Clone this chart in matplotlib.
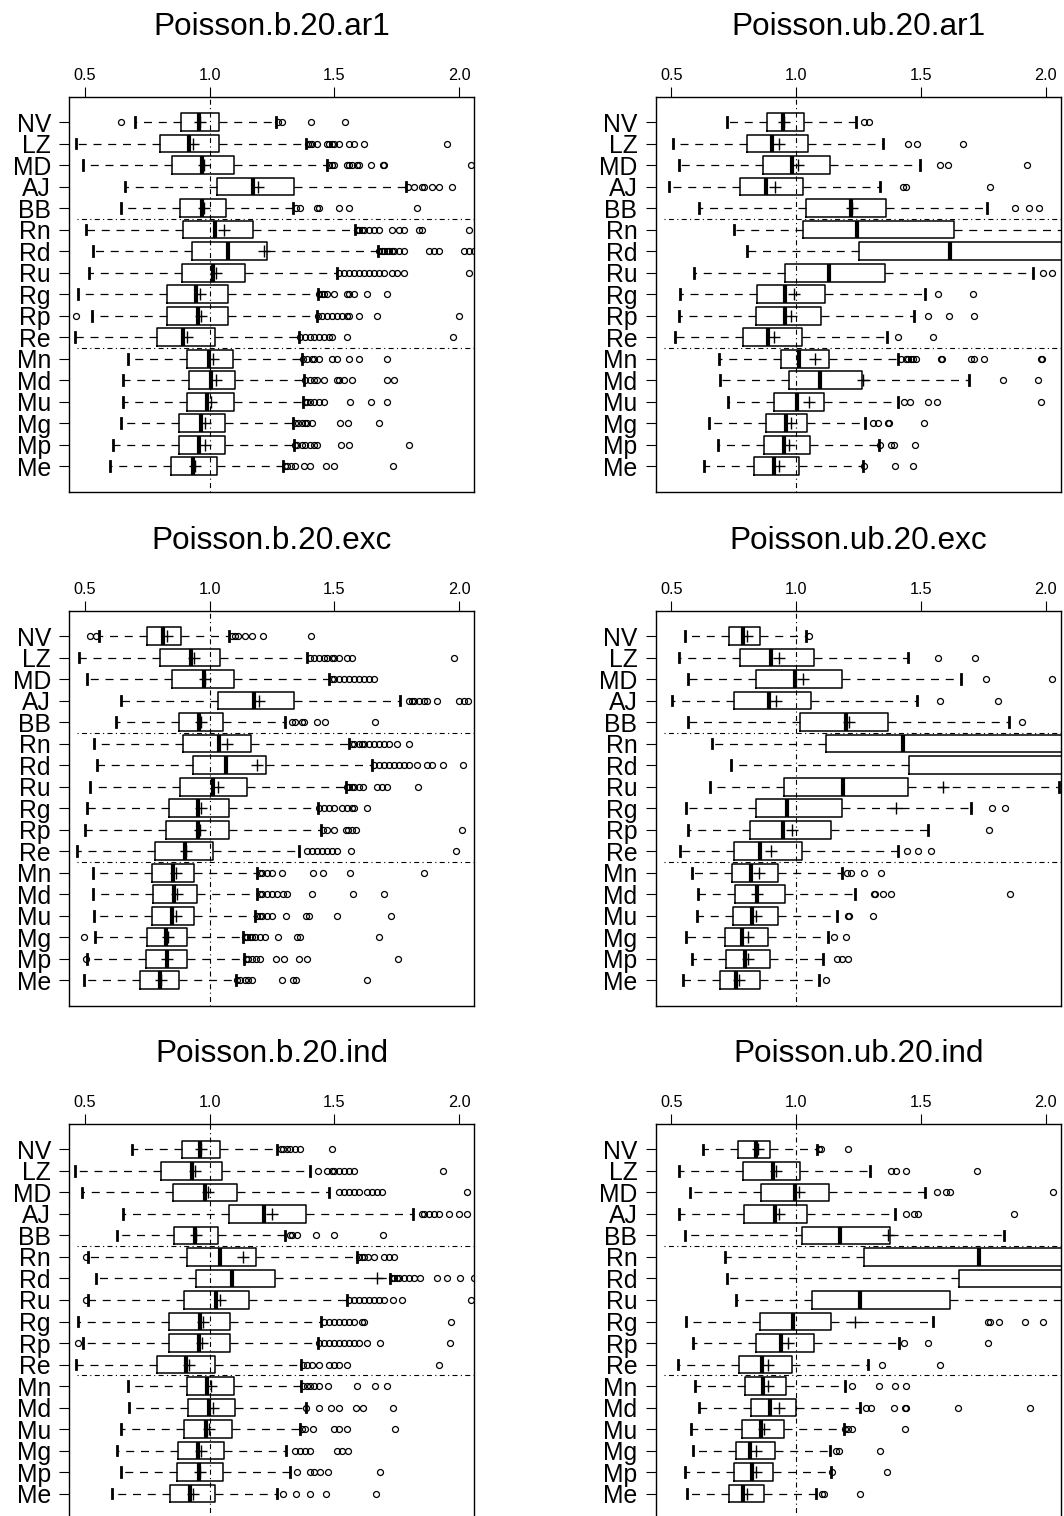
import matplotlib
matplotlib.use("Agg")
import matplotlib.pyplot as plt

plt.rcParams['font.family'] = ['Liberation Sans', 'DejaVu Sans']

# ---------------- data ----------------
CATEGORIES = ['NV', 'LZ', 'MD', 'AJ', 'BB', 'Rn', 'Rd', 'Ru', 'Rg', 'Rp', 'Re',
              'Mn', 'Md', 'Mu', 'Mg', 'Mp', 'Me']
TITLES = ['Poisson.b.20.ar1', 'Poisson.ub.20.ar1',
          'Poisson.b.20.exc', 'Poisson.ub.20.exc',
          'Poisson.b.20.ind', 'Poisson.ub.20.ind']
XTICKS = [0.5, 1.0, 1.5, 2.0]
XTICK_LABELS = ['0.5', '1.0', '1.5', '2.0']
REF_X = 1.0
GROUP_BREAKS = ['BB', 'Re']   # dash-dot separator drawn below these categories

# --- Poisson.b.20.ar1 ---
b_ar1_whislo = [0.701, 0.464, 0.491, 0.660, 0.647, 0.504, 0.533, 0.517, 0.473, 0.527, 0.460, 0.674, 0.654, 0.654, 0.647, 0.614, 0.603]
b_ar1_q1 = [0.885, 0.803, 0.848, 1.031, 0.881, 0.894, 0.928, 0.888, 0.830, 0.830, 0.790, 0.910, 0.916, 0.910, 0.878, 0.876, 0.846]
b_ar1_med = [0.959, 0.918, 0.968, 1.172, 0.969, 1.020, 1.072, 1.012, 0.945, 0.953, 0.893, 0.997, 1.005, 0.989, 0.964, 0.959, 0.932]
b_ar1_q3 = [1.039, 1.039, 1.099, 1.336, 1.064, 1.172, 1.229, 1.142, 1.074, 1.074, 1.020, 1.095, 1.103, 1.098, 1.063, 1.063, 1.028]
b_ar1_whishi = [1.266, 1.386, 1.469, 1.787, 1.332, 1.583, 1.676, 1.512, 1.433, 1.429, 1.356, 1.369, 1.376, 1.373, 1.333, 1.336, 1.293]
b_ar1_mean = [0.962, 0.932, 0.977, 1.195, 0.977, 1.058, 1.219, 1.025, 0.961, 0.967, 0.908, 1.015, 1.025, 1.004, 0.980, 0.980, 0.941]
b_ar1_fliers = [
    [0.647, 1.275, 1.29, 1.405, 1.544],
    [1.395, 1.40, 1.41, 1.43, 1.47, 1.48, 1.49, 1.50, 1.52, 1.56, 1.58, 1.62, 1.95],
    [1.48, 1.49, 1.50, 1.55, 1.56, 1.57, 1.59, 1.60, 1.645, 1.695, 1.70, 2.045],
    [1.795, 1.82, 1.85, 1.86, 1.89, 1.92, 1.97],
    [1.345, 1.36, 1.43, 1.44, 1.52, 1.56, 1.83],
    [1.59, 1.60, 1.61, 1.62, 1.64, 1.66, 1.68, 1.73, 1.76, 1.78, 1.84, 1.85, 2.04],
    [1.68, 1.69, 1.70, 1.71, 1.72, 1.73, 1.74, 1.76, 1.78, 1.88, 1.90, 1.92, 2.02, 2.04, 2.06],
    [1.52, 1.54, 1.56, 1.58, 1.60, 1.62, 1.64, 1.66, 1.68, 1.70, 1.73, 1.75, 1.78, 2.04],
    [1.44, 1.45, 1.46, 1.47, 1.50, 1.55, 1.56, 1.58, 1.63, 1.71],
    [0.464, 1.435, 1.45, 1.47, 1.49, 1.51, 1.53, 1.55, 1.56, 1.60, 1.67, 2.00],
    [1.36, 1.38, 1.40, 1.42, 1.44, 1.46, 1.48, 1.49, 1.55, 1.975],
    [1.375, 1.39, 1.41, 1.42, 1.44, 1.49, 1.51, 1.56, 1.60, 1.71],
    [1.38, 1.40, 1.42, 1.43, 1.46, 1.51, 1.52, 1.54, 1.57, 1.71, 1.74],
    [1.38, 1.39, 1.40, 1.42, 1.44, 1.46, 1.563, 1.645, 1.71],
    [1.34, 1.355, 1.37, 1.38, 1.39, 1.41, 1.523, 1.553, 1.68],
    [1.34, 1.35, 1.37, 1.38, 1.40, 1.42, 1.43, 1.527, 1.56, 1.797],
    [1.30, 1.31, 1.325, 1.34, 1.376, 1.402, 1.466, 1.50, 1.734],
]

# --- Poisson.ub.20.ar1 ---
ub_ar1_whislo = [0.724, 0.507, 0.533, 0.493, 0.613, 0.753, 0.804, 0.593, 0.536, 0.531, 0.517, 0.693, 0.696, 0.727, 0.653, 0.687, 0.631]
ub_ar1_q1 = [0.884, 0.803, 0.868, 0.776, 1.040, 1.029, 1.253, 0.957, 0.845, 0.841, 0.788, 0.939, 0.971, 0.913, 0.880, 0.871, 0.833]
ub_ar1_med = [0.949, 0.903, 0.984, 0.881, 1.220, 1.244, 1.616, 1.133, 0.957, 0.957, 0.888, 1.013, 1.095, 1.004, 0.961, 0.953, 0.911]
ub_ar1_q3 = [1.031, 1.049, 1.137, 1.029, 1.360, 1.633, 2.450, 1.357, 1.116, 1.100, 1.025, 1.132, 1.263, 1.113, 1.044, 1.056, 1.011]
ub_ar1_whishi = [1.241, 1.347, 1.497, 1.337, 1.764, 2.600, 3.400, 1.951, 1.516, 1.471, 1.364, 1.409, 1.693, 1.409, 1.276, 1.331, 1.267]
ub_ar1_mean = [0.951, 0.933, 1.007, 0.916, 1.223, 2.200, 2.300, 2.150, 0.991, 0.980, 0.913, 1.076, 1.267, 1.051, 0.980, 0.973, 0.933]
ub_ar1_fliers = [
    [1.273, 1.293],
    [1.449, 1.483, 1.669],
    [1.577, 1.607, 1.924],
    [1.427, 1.440, 1.776],
    [1.876, 1.933, 1.973],
    [],
    [],
    [1.991, 2.027],
    [1.569, 1.709],
    [1.527, 1.612, 1.711],
    [1.408, 1.547],
    [1.42, 1.44, 1.45, 1.46, 1.47, 1.48, 1.58, 1.585, 1.70, 1.713, 1.753, 1.98, 1.985],
    [1.827, 1.969],
    [1.431, 1.457, 1.527, 1.563, 1.98],
    [1.307, 1.327, 1.369, 1.373, 1.513],
    [1.337, 1.380, 1.393, 1.476],
    [1.273, 1.397, 1.468],
]

# --- Poisson.b.20.exc ---
b_exc_whislo = [0.557, 0.476, 0.507, 0.647, 0.627, 0.536, 0.547, 0.520, 0.507, 0.500, 0.467, 0.533, 0.533, 0.536, 0.540, 0.509, 0.497]
b_exc_q1 = [0.751, 0.803, 0.848, 1.032, 0.876, 0.894, 0.932, 0.881, 0.836, 0.824, 0.782, 0.771, 0.775, 0.771, 0.751, 0.745, 0.723]
b_exc_med = [0.814, 0.924, 0.976, 1.179, 0.959, 1.036, 1.066, 1.012, 0.955, 0.952, 0.901, 0.854, 0.857, 0.849, 0.825, 0.828, 0.801]
b_exc_q3 = [0.885, 1.041, 1.099, 1.336, 1.055, 1.166, 1.225, 1.150, 1.078, 1.076, 1.015, 0.939, 0.948, 0.936, 0.908, 0.908, 0.878]
b_exc_whishi = [1.079, 1.389, 1.479, 1.761, 1.302, 1.559, 1.652, 1.545, 1.433, 1.445, 1.356, 1.189, 1.191, 1.182, 1.135, 1.139, 1.106]
b_exc_mean = [0.828, 0.937, 0.981, 1.197, 0.965, 1.071, 1.191, 1.032, 0.965, 0.961, 0.905, 0.865, 0.868, 0.865, 0.832, 0.831, 0.805]
b_exc_fliers = [
    [0.520, 0.544, 1.09, 1.10, 1.115, 1.14, 1.168, 1.213, 1.405],
    [1.40, 1.42, 1.44, 1.46, 1.47, 1.49, 1.50, 1.52, 1.55, 1.57, 1.98],
    [1.49, 1.50, 1.52, 1.54, 1.56, 1.58, 1.60, 1.62, 1.64, 1.66],
    [1.80, 1.81, 1.82, 1.84, 1.86, 1.87, 1.91, 2.00, 2.02, 2.035],
    [1.329, 1.342, 1.369, 1.378, 1.429, 1.463, 1.663],
    [1.57, 1.58, 1.60, 1.61, 1.62, 1.64, 1.66, 1.68, 1.70, 1.72, 1.75, 1.80],
    [1.66, 1.68, 1.70, 1.72, 1.74, 1.76, 1.78, 1.80, 1.83, 1.87, 1.89, 1.935, 2.015],
    [1.55, 1.56, 1.57, 1.58, 1.60, 1.615, 1.67, 1.69, 1.71, 1.836],
    [1.44, 1.46, 1.48, 1.50, 1.53, 1.55, 1.57, 1.58, 1.63],
    [1.455, 1.47, 1.50, 1.545, 1.555, 1.57, 1.585, 2.01],
    [1.39, 1.41, 1.43, 1.45, 1.47, 1.49, 1.51, 1.566, 1.988],
    [1.20, 1.21, 1.23, 1.25, 1.29, 1.416, 1.453, 1.563, 1.857],
    [1.20, 1.21, 1.23, 1.25, 1.27, 1.295, 1.31, 1.409, 1.576, 1.70],
    [1.19, 1.20, 1.21, 1.23, 1.25, 1.306, 1.386, 1.396, 1.512, 1.726],
    [0.497, 1.14, 1.15, 1.16, 1.17, 1.18, 1.20, 1.22, 1.272, 1.35, 1.36, 1.68],
    [0.505, 1.145, 1.155, 1.17, 1.185, 1.20, 1.267, 1.296, 1.357, 1.388, 1.754],
    [1.11, 1.12, 1.14, 1.155, 1.17, 1.29, 1.332, 1.346, 1.63],
]

# --- Poisson.ub.20.exc ---
ub_exc_whislo = [0.557, 0.531, 0.567, 0.503, 0.569, 0.664, 0.740, 0.657, 0.559, 0.569, 0.536, 0.585, 0.609, 0.605, 0.559, 0.583, 0.548]
ub_exc_q1 = [0.730, 0.775, 0.840, 0.752, 1.017, 1.119, 1.453, 0.950, 0.838, 0.817, 0.753, 0.745, 0.756, 0.747, 0.717, 0.719, 0.695]
ub_exc_med = [0.788, 0.901, 0.996, 0.893, 1.200, 1.427, 2.200, 1.188, 0.963, 0.948, 0.856, 0.821, 0.843, 0.823, 0.783, 0.795, 0.760]
ub_exc_q3 = [0.855, 1.071, 1.183, 1.060, 1.367, 2.300, 2.900, 1.449, 1.186, 1.141, 1.025, 0.927, 0.955, 0.928, 0.887, 0.895, 0.856]
ub_exc_whishi = [1.039, 1.449, 1.660, 1.484, 1.852, 3.000, 3.600, 2.052, 1.700, 1.527, 1.409, 1.183, 1.235, 1.163, 1.128, 1.107, 1.093]
ub_exc_mean = [0.803, 0.933, 1.027, 0.920, 1.211, 2.100, 2.400, 1.589, 1.399, 0.983, 0.901, 0.851, 0.845, 0.840, 0.807, 0.807, 0.773]
ub_exc_fliers = [
    [1.053],
    [1.569, 1.715],
    [1.761, 2.025],
    [1.577, 1.809],
    [1.907],
    [],
    [],
    [],
    [1.785, 1.837],
    [1.771],
    [1.443, 1.488, 1.539],
    [1.203, 1.22, 1.273, 1.34],
    [1.313, 1.317, 1.347, 1.38, 1.856],
    [1.209, 1.213, 1.309],
    [1.152, 1.201],
    [1.163, 1.185, 1.208],
    [1.121],
]

# --- Poisson.b.20.ind ---
b_ind_whislo = [0.690, 0.460, 0.487, 0.654, 0.630, 0.512, 0.545, 0.512, 0.473, 0.493, 0.464, 0.674, 0.678, 0.644, 0.630, 0.644, 0.611]
b_ind_q1 = [0.888, 0.807, 0.854, 1.076, 0.856, 0.910, 0.947, 0.897, 0.838, 0.838, 0.789, 0.910, 0.912, 0.898, 0.874, 0.868, 0.842]
b_ind_med = [0.963, 0.928, 0.980, 1.218, 0.940, 1.041, 1.091, 1.025, 0.961, 0.956, 0.905, 0.989, 0.996, 0.985, 0.955, 0.956, 0.922]
b_ind_q3 = [1.043, 1.051, 1.111, 1.385, 1.035, 1.186, 1.262, 1.159, 1.083, 1.080, 1.021, 1.099, 1.102, 1.088, 1.056, 1.052, 1.023]
b_ind_whishi = [1.271, 1.400, 1.480, 1.813, 1.300, 1.590, 1.723, 1.549, 1.446, 1.436, 1.366, 1.366, 1.386, 1.362, 1.306, 1.320, 1.269]
b_ind_mean = [0.965, 0.940, 0.995, 1.249, 0.945, 1.135, 1.672, 1.041, 0.975, 0.968, 0.918, 1.004, 1.015, 0.999, 0.965, 0.962, 0.934]
b_ind_fliers = [
    [1.285, 1.295, 1.31, 1.32, 1.34, 1.36, 1.49],
    [1.436, 1.47, 1.49, 1.50, 1.52, 1.54, 1.56, 1.58, 1.933],
    [1.52, 1.54, 1.56, 1.58, 1.60, 1.63, 1.65, 1.67, 1.69, 2.03],
    [1.85, 1.86, 1.88, 1.90, 1.92, 1.957, 1.997, 2.031],
    [1.32, 1.33, 1.35, 1.426, 1.50, 1.693],
    [0.505, 1.60, 1.61, 1.62, 1.635, 1.66, 1.70, 1.72, 1.74],
    [1.73, 1.74, 1.75, 1.76, 1.78, 1.80, 1.82, 1.844, 1.91, 1.95, 2.004, 2.057],
    [0.505, 1.56, 1.58, 1.60, 1.62, 1.64, 1.66, 1.68, 1.70, 1.735, 1.77, 2.047],
    [1.46, 1.48, 1.50, 1.52, 1.54, 1.56, 1.58, 1.61, 1.62, 1.968],
    [0.473, 1.44, 1.46, 1.48, 1.50, 1.52, 1.54, 1.56, 1.58, 1.60, 1.63, 1.683, 1.964],
    [1.375, 1.39, 1.41, 1.44, 1.48, 1.50, 1.52, 1.55, 1.92],
    [1.375, 1.39, 1.40, 1.42, 1.44, 1.476, 1.592, 1.663, 1.71],
    [1.386, 1.44, 1.485, 1.52, 1.587, 1.616, 1.734],
    [1.37, 1.38, 1.413, 1.50, 1.52, 1.55, 1.743],
    [1.342, 1.36, 1.38, 1.40, 1.51, 1.53, 1.556],
    [1.349, 1.40, 1.42, 1.443, 1.473, 1.683],
    [1.295, 1.346, 1.40, 1.467, 1.666],
]

# --- Poisson.ub.20.ind ---
ub_ind_whislo = [0.629, 0.533, 0.577, 0.531, 0.557, 0.715, 0.724, 0.760, 0.560, 0.587, 0.527, 0.597, 0.613, 0.580, 0.589, 0.557, 0.564]
ub_ind_q1 = [0.768, 0.788, 0.860, 0.793, 1.024, 1.272, 1.651, 1.063, 0.855, 0.839, 0.773, 0.795, 0.819, 0.784, 0.760, 0.752, 0.731]
ub_ind_med = [0.841, 0.907, 0.996, 0.917, 1.175, 1.732, 2.250, 1.257, 0.988, 0.941, 0.864, 0.869, 0.896, 0.861, 0.817, 0.824, 0.788]
ub_ind_q3 = [0.895, 1.015, 1.131, 1.043, 1.377, 2.300, 2.900, 1.616, 1.140, 1.071, 0.983, 0.959, 1.000, 0.952, 0.915, 0.908, 0.871]
ub_ind_whishi = [1.084, 1.296, 1.516, 1.397, 1.831, 3.100, 3.800, 2.350, 1.549, 1.411, 1.288, 1.195, 1.257, 1.191, 1.136, 1.140, 1.080]
ub_ind_mean = [0.847, 0.920, 1.013, 0.933, 1.369, 2.200, 2.500, 2.100, 1.236, 0.969, 0.889, 0.889, 0.933, 0.873, 0.840, 0.840, 0.804]
ub_ind_fliers = [
    [1.093, 1.10, 1.207],
    [1.38, 1.40, 1.44, 1.724],
    [1.563, 1.60, 1.616, 2.029],
    [1.44, 1.473, 1.487, 1.871],
    [],
    [],
    [],
    [],
    [1.767, 1.777, 1.813, 1.916, 1.991],
    [1.431, 1.529, 1.767],
    [1.344, 1.575],
    [1.224, 1.333, 1.396, 1.441],
    [1.28, 1.30, 1.391, 1.437, 1.441, 1.647, 1.936],
    [1.196, 1.21, 1.225, 1.436],
    [1.16, 1.173, 1.336],
    [1.143, 1.363],
    [1.104, 1.113, 1.255],
]

PANELS = [
    (b_ar1_whislo, b_ar1_q1, b_ar1_med, b_ar1_q3, b_ar1_whishi, b_ar1_mean, b_ar1_fliers),
    (ub_ar1_whislo, ub_ar1_q1, ub_ar1_med, ub_ar1_q3, ub_ar1_whishi, ub_ar1_mean, ub_ar1_fliers),
    (b_exc_whislo, b_exc_q1, b_exc_med, b_exc_q3, b_exc_whishi, b_exc_mean, b_exc_fliers),
    (ub_exc_whislo, ub_exc_q1, ub_exc_med, ub_exc_q3, ub_exc_whishi, ub_exc_mean, ub_exc_fliers),
    (b_ind_whislo, b_ind_q1, b_ind_med, b_ind_q3, b_ind_whishi, b_ind_mean, b_ind_fliers),
    (ub_ind_whislo, ub_ind_q1, ub_ind_med, ub_ind_q3, ub_ind_whishi, ub_ind_mean, ub_ind_fliers),
]

# ---------------- layout / style ----------------
W, H = 1064, 1516
fig = plt.figure(figsize=(W / 100, H / 100), dpi=100)

AX_W = 405 / W
AX_H = 395 / H
LEFTS = [69.3 / W, 655.7 / W]
TOPS = [96.7, 610.7, 1124.0]

positions = list(range(len(CATEGORIES), 0, -1))

box_kw = dict(
    widths=0.82, capwidths=0.45, showmeans=True, meanline=False,
    patch_artist=False, manage_ticks=False,
    boxprops=dict(color='black', linewidth=1.1),
    whiskerprops=dict(color='black', linewidth=0.9, linestyle=(0, (6.4, 5.4))),
    capprops=dict(color='black', linewidth=2.0),
    medianprops=dict(color='black', linewidth=3.0, solid_capstyle='butt'),
    meanprops=dict(marker='+', markersize=8, markeredgecolor='black',
                   markeredgewidth=1.0, linestyle='none'),
    flierprops=dict(marker='o', markersize=4.3, markerfacecolor='none',
                    markeredgecolor='black', markeredgewidth=0.9, linestyle='none'),
)
dashdot = (0, (1.0, 3.0, 4.5, 3.0))

for i, (title, data) in enumerate(zip(TITLES, PANELS)):
    row, col = divmod(i, 2)
    bottom = 1 - (TOPS[row] + 395) / H
    ax = fig.add_axes([LEFTS[col], bottom, AX_W, AX_H])
    wl, q1, md, q3, wh, mn, fl = data
    stats = [dict(label=c, whislo=a, q1=b, med=m, q3=d, whishi=e, mean=u, fliers=f)
             for c, a, b, m, d, e, u, f in zip(CATEGORIES, wl, q1, md, q3, wh, mn, fl)]
    ax.axvline(REF_X, color='black', linewidth=0.8, linestyle=dashdot, zorder=1)
    for cat in GROUP_BREAKS:
        y = positions[CATEGORIES.index(cat)] - 0.5
        ax.axhline(y, xmin=0.02, xmax=1.0, color='black', linewidth=0.8,
                   linestyle=dashdot, zorder=1)
    try:
        ax.bxp(stats, positions=positions, orientation='horizontal', **box_kw)
    except TypeError:
        ax.bxp(stats, positions=positions, vert=False, **box_kw)

    ax.set_xlim(0.438, 2.06)
    ax.set_ylim(-0.18, len(CATEGORIES) + 1.18)
    ax.set_yticks(positions)
    ax.set_yticklabels(CATEGORIES, fontsize=17.8)
    ax.xaxis.tick_top()
    ax.set_xticks(XTICKS)
    ax.set_xticklabels(XTICK_LABELS, fontsize=11.7)
    ax.tick_params(axis='x', direction='out', length=7.2, width=0.8, pad=3)
    ax.tick_params(axis='y', direction='out', length=7.2, width=0.8, pad=6)
    for s in ax.spines.values():
        s.set_linewidth(1.0)
    ax.text(0.5, 1 + 62 / 395, title, transform=ax.transAxes, ha='center',
            va='baseline', fontsize=22.7)

fig.savefig('out.png', dpi=100)
